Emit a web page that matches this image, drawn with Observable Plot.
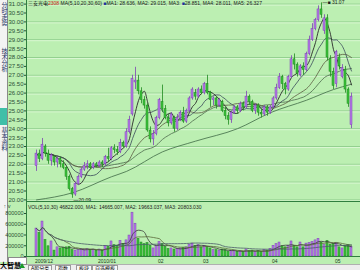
<!DOCTYPE html>
<html><head><meta charset="utf-8">
<script src="https://cdn.jsdelivr.net/npm/d3@7"></script>
<script src="https://cdn.jsdelivr.net/npm/@observablehq/plot@0.6"></script>
<style>
body{margin:0;}
#wrap{position:relative;width:360px;height:270px;background:#bcefb2;overflow:hidden;font-family:"Liberation Sans","Noto Sans CJK SC",sans-serif;}
.vt{position:absolute;left:0;width:7px;writing-mode:vertical-rl;font-size:6px;line-height:7px;color:#203060;text-align:center;}
</style></head><body><div id="wrap"></div>
<script>
// ---- data ----
const opens  = [21.9,22.6,22.3,23.0,22.6,22.2,22.4,22.1,22.3,22.0,21.8,21.3,20.6,20.3,20.9,21.3,21.7,21.9,22.0,21.8,22.0,21.9,22.1,22.0,22.4,22.3,22.9,22.8,22.7,23.2,23.0,23.8,24.8,26.6,26.7,26.1,25.6,25.3,23.9,23.4,23.7,24.6,25.5,25.1,24.6,24.3,24.6,24.0,24.6,24.9,24.4,25.0,25.7,26.0,25.8,26.2,26.0,26.5,26.0,25.6,25.7,25.3,25.5,25.0,24.7,24.5,24.9,25.2,25.0,25.4,25.2,25.8,25.5,25.0,25.3,24.9,24.8,25.2,24.9,25.2,25.7,26.3,26.9,26.5,26.2,26.9,27.9,27.6,27.0,27.5,27.3,28.2,29.0,29.6,30.1,30.7,29.5,30.2,27.9,27.2,26.5,28.0,26.9,27.3,26.2,24.2];
const highs  = [22.8,22.8,23.45,23.1,22.8,22.6,22.5,22.4,22.4,22.2,21.9,21.4,20.7,21.0,21.4,21.8,22.1,22.2,22.1,22.1,22.1,22.2,22.2,22.5,22.9,23.0,23.1,23.0,23.4,23.3,24.0,24.7,27.0,27.45,27.0,26.3,25.8,25.4,24.1,23.9,24.7,25.7,26.45,25.3,24.8,24.9,24.7,24.8,25.0,25.2,25.1,25.8,26.3,26.2,26.3,26.4,26.6,27.0,26.1,25.8,25.8,25.7,25.6,25.2,24.9,25.0,25.3,25.3,25.5,25.5,26.1,25.9,25.6,25.4,25.4,25.1,25.3,25.3,25.3,25.8,26.5,27.1,27.0,26.6,27.0,28.1,28.2,27.7,27.6,27.7,28.3,29.2,29.9,30.2,30.9,31.07,30.4,30.4,28.1,27.4,28.4,28.2,27.6,27.5,26.3,26.0];
const lows   = [21.6,22.1,22.2,22.4,22.0,21.9,21.9,21.8,21.8,21.7,21.1,20.5,20.09,20.2,20.8,21.2,21.6,21.7,21.7,21.7,21.8,21.8,21.8,21.9,22.1,22.2,22.6,22.5,22.6,22.9,22.9,23.7,24.7,26.2,25.9,25.4,25.1,23.8,23.2,23.05,23.6,24.5,24.9,24.5,24.1,24.2,23.8,23.9,24.4,24.3,24.3,24.9,25.6,25.6,25.7,25.9,25.9,25.9,25.2,25.3,25.1,25.2,24.9,24.5,24.2,24.3,24.8,24.8,24.9,25.0,25.1,25.3,24.9,24.8,24.7,24.6,24.7,24.7,24.8,25.1,25.6,26.2,26.2,25.9,26.1,26.8,27.3,26.9,26.9,27.0,27.2,28.1,28.9,29.5,30.0,30.2,29.3,27.8,26.9,26.2,26.3,27.3,26.8,26.0,25.2,24.0];
const closes = [22.6,22.3,23.1,22.6,22.2,22.5,22.1,22.3,22.0,21.8,21.3,20.6,20.3,20.9,21.3,21.7,21.9,22.0,21.8,22.0,21.9,22.1,22.0,22.4,22.3,22.9,22.8,22.7,23.2,23.0,23.8,24.5,26.8,26.7,26.1,25.6,25.3,23.9,23.4,23.7,24.6,25.6,25.1,24.6,24.3,24.8,24.0,24.6,24.9,24.4,25.0,25.7,26.2,25.8,26.2,26.0,26.5,26.0,25.6,25.7,25.3,25.6,25.0,24.7,24.5,24.9,25.2,25.0,25.4,25.2,25.8,25.5,25.0,25.3,24.9,24.8,25.2,24.9,25.2,25.7,26.3,26.9,26.5,26.2,26.9,27.9,27.6,27.1,27.5,27.3,28.2,29.0,29.6,30.1,30.7,30.4,30.2,28.0,27.2,26.4,28.3,27.5,27.4,26.2,25.4,25.8];
const volumes = [520,440,650,310,190,280,110,170,150,160,170,180,120,110,120,140,130,140,120,130,110,130,110,200,180,280,210,200,290,230,300,390,815,610,330,260,230,250,200,150,190,270,230,180,140,150,130,140,150,160,170,220,240,200,210,170,200,180,150,120,120,110,130,120,90,100,110,90,100,80,130,100,110,90,100,90,120,110,140,200,230,260,190,170,200,280,200,170,260,170,240,250,270,300,330,260,210,290,220,230,250,170,150,190,210,180]; // thousands
const ma60Idx = [0,12,25,30,42,53,67,78,90,99,105];
const ma60Val = [20.0,20.4,21.3,21.6,22.7,23.3,24.0,24.9,25.6,26.2,26.5];
const priceTicks = [20,20.5,21,21.5,22,22.5,23,23.5,24,24.5,25,25.5,26,26.5,27,27.5,28,28.5,29,29.5,30,30.5,31];
const gridPrices = [20,21,22,23,24,25,26,27,28,29,30,31];
const volTicks = [0,200000,400000,600000,800000];
const monthIdx = [0,21,41,56,79,100];
const monthLabels = ["2009/12","2010/01","02","03","04","05"];
const tabNames = ["A股分类","指数","板块","自选模板"];

const N = closes.length;
const data = d3.range(N).map(i => ({i, o: opens[i], h: highs[i], l: lows[i], c: closes[i], v: volumes[i]*1000, up: closes[i] >= opens[i]}));
const UPF = "#b57be6", UPS = "#7d43b4", DNF = "#3cc23c", DNS = "#1f8a1f";
const xScale = {type: "band", domain: d3.range(N), range: [26.5, 360], padding: 0.3};
const font = "Liberation Sans, Noto Sans CJK SC, sans-serif";
const wrap = document.getElementById("wrap");

function place(el, left, top) { el.style.position = "absolute"; el.style.left = left + "px"; el.style.top = top + "px"; wrap.appendChild(el); return el; }
function div(html, left, top, css) { const d = document.createElement("div"); d.innerHTML = html; d.style.cssText = css || ""; return place(d, left, top); }

const maxI = d3.maxIndex(highs), minI = d3.minIndex(lows);

// left strip (drawn first, beneath the plots)
div("", 0, 0, "width:7px;height:262px;background:#f3f3f3;border-right:1px solid #8a8a8a;");
div("分时走势", 0, 2, "").className = "vt";
div("技术分析", 0, 48, "").className = "vt";
div("", 0, 108, "width:7px;height:17px;background:#3fbfa8;");
div("基本资料", 0, 127, "").className = "vt";

// ---- price panel ----
const price = Plot.plot({
  width: 360, height: 202,
  marginLeft: 26, marginRight: 0, marginTop: 0, marginBottom: 0,
  style: {background: "transparent", fontFamily: font, overflow: "visible"},
  x: {...xScale, axis: null},
  y: {domain: [20, 31], range: [199.4, 3.6]},
  color: {type: "identity"},
  marks: [
    Plot.ruleY(gridPrices, {stroke: "#93d08f", strokeWidth: 1}),
    Plot.ruleY(gridPrices, {stroke: "#d9f7d2", strokeWidth: 1, dy: 1}),
    Plot.axisY(priceTicks, {anchor: "left", tickSize: 2, tickPadding: 1, tickFormat: d => d.toFixed(2), fontSize: 6, color: "#2a4f35"}),
    Plot.line(ma60Idx.map((x, k) => [x, ma60Val[k]]), {x: d => d[0], y: d => d[1], stroke: "#3f6a45", strokeWidth: 0.8, curve: "monotone-x"}),
    Plot.lineY(data, Plot.windowY({k: 30, anchor: "end"}, {x: "i", y: "c", stroke: "#4d6a4d", strokeWidth: 0.8, curve: "monotone-x"})),
    Plot.lineY(data, Plot.windowY({k: 20, anchor: "end"}, {x: "i", y: "c", stroke: "#5a5a40", strokeWidth: 0.8, curve: "monotone-x"})),
    Plot.lineY(data, Plot.windowY({k: 10, anchor: "end"}, {x: "i", y: "c", stroke: "#3a4a5a", strokeWidth: 0.8, curve: "monotone-x"})),
    Plot.lineY(data, Plot.windowY({k: 5, anchor: "end"}, {x: "i", y: "c", stroke: "#2a2a2a", strokeWidth: 0.9, curve: "monotone-x"})),
    Plot.ruleX(data, {x: "i", y1: "l", y2: "h", stroke: d => d.up ? UPS : DNS, strokeWidth: 0.8}),
    Plot.barY(data, {x: "i", y1: "o", y2: "c", fill: d => d.up ? UPF : DNF, stroke: d => d.up ? UPS : DNS, strokeWidth: 0.5}),
    Plot.text([minI], {x: d => d, y: d => lows[d], text: d => "—" + lows[d].toFixed(2), dy: 2, dx: 1, textAnchor: "start", fontSize: 5, fill: "#1a1a1a"}),
    Plot.text([maxI], {x: d => d, y: d => highs[d], text: d => "—■ " + highs[d].toFixed(2), dy: 0, dx: 1, textAnchor: "start", fontSize: 5, fill: "#1a1a1a"})
  ]
});
place(price, 0, 0);

// ---- volume panel ----
const vol = Plot.plot({
  width: 360, height: 64,
  marginLeft: 26, marginRight: 0, marginTop: 0, marginBottom: 0,
  style: {background: "transparent", fontFamily: font, overflow: "visible"},
  x: {...xScale, axis: null},
  y: {domain: [0, 800000], range: [55, 12]},
  color: {type: "identity"},
  marks: [
    Plot.axisY(volTicks, {anchor: "left", tickSize: 2, tickPadding: 1, tickFormat: d => String(d), fontSize: 5.5, color: "#2a4f35"}),
    Plot.barY(data, {x: "i", y1: 0, y2: "v", fill: d => d.up ? UPF : DNF, stroke: d => d.up ? UPS : DNS, strokeWidth: 0.5}),
    Plot.lineY(data, Plot.windowY({k: 5, anchor: "end"}, {x: "i", y: "v", stroke: "#3a3a3a", strokeWidth: 0.8, curve: "monotone-x"})),
    Plot.lineY(data, Plot.windowY({k: 10, anchor: "end"}, {x: "i", y: "v", stroke: "#5a6a3a", strokeWidth: 0.8, curve: "monotone-x"})),
    Plot.lineY(data, Plot.windowY({k: 30, anchor: "end"}, {x: "i", y: "v", stroke: "#4a5a6a", strokeWidth: 0.8, curve: "monotone-x"})),
    Plot.text(monthIdx, {x: d => d, y: 0, dy: 4.5, text: (d, k) => monthLabels[k], textAnchor: "start", dx: -1.5, fontSize: 5, fill: "#1a3a1a"})
  ]
});
place(vol, 0, 201);

// axis lines and panel separator
div("", 26, 0, "width:1px;height:257px;background:#2f7f3f;");
div("", 26, 201, "width:334px;height:1px;background:#2f7f3f;");
div("", 26, 256, "width:334px;height:1px;background:#2f7f3f;");

// titles
div('<span style="color:#000">三安光电</span><span style="color:#d02020">2308</span> MA(5,10,20,30,60) <span style="color:#2030a0">■</span>MA1: 28.636, MA2: 29.015, MA3: <span style="color:#2030a0">■</span>28.851, MA4: 28.011, MA5: 26.327',
  28, 0, "font-size:5px;white-space:nowrap;color:#1a1a1a;line-height:7px;");
div('VOL(5,10,30) 46822.000, MA1: 14665.007, MA2: 19663.037, MA3: 20803.030',
  28, 204, "font-size:5px;white-space:nowrap;color:#1a1a1a;line-height:7px;");

// bottom bar
div("", 0, 264, "width:360px;height:6px;background:#eeeeee;border-top:1px solid #b0b0b0;");
div("", 8, 257, "width:17px;height:6px;background:#ffffff;border:0.5px solid #8a8a8a;");
div("大智慧", 0, 262, "font-size:7px;font-weight:bold;color:#000;white-space:nowrap;line-height:8px;");
div("", 19, 263, "width:0;height:0;border-left:3px solid transparent;border-right:3px solid transparent;border-bottom:5px solid #1a9a2a;");
const tabX = [28, 55, 76, 92];
tabNames.forEach((t, k) => div(t, tabX[k], 264.5, "font-size:5px;color:#000;white-space:nowrap;line-height:5.5px;border:0.5px solid #9a9a9a;padding:0 2px;background:#f8f8f8;"));
</script></body></html>
